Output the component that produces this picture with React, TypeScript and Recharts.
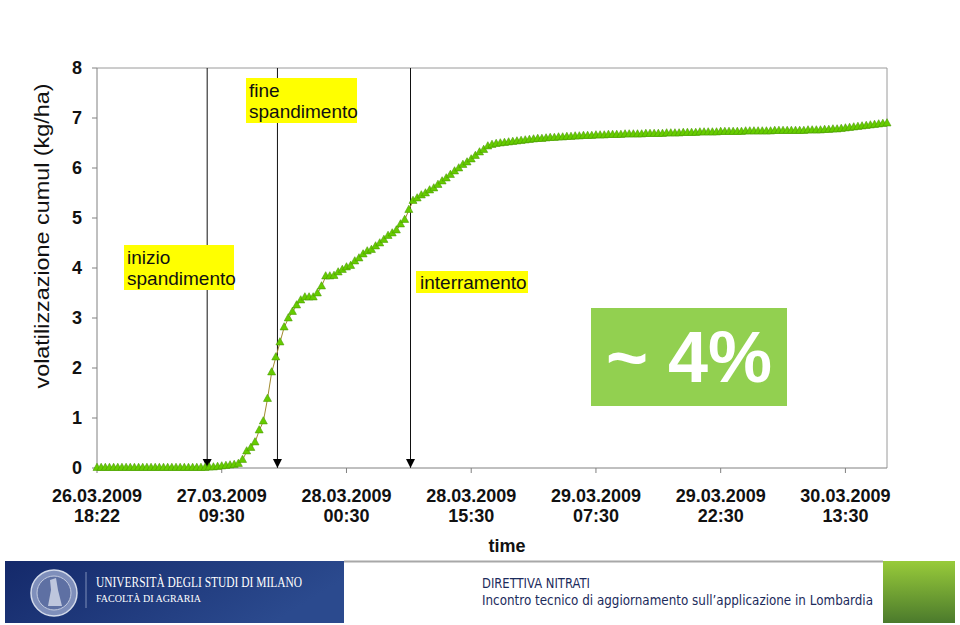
import React from 'react'
import { LineChart, Line, XAxis, YAxis, ReferenceLine, ReferenceDot } from 'recharts'

// half-hourly readings, 26.03.2009 18:22 -> 30.03.2009 ~18:00
const tickIndex = [0, 30, 60, 90, 120, 150, 180]
const tickDates = ['26.03.2009', '27.03.2009', '28.03.2009', '28.03.2009', '29.03.2009', '29.03.2009', '30.03.2009']
const tickTimes = ['18:22', '09:30', '00:30', '15:30', '07:30', '22:30', '13:30']
const yTicks = [0, 1, 2, 3, 4, 5, 6, 7, 8]

// cumulative volatilisation (kg/ha)
const beforeSpreading = [
  0, 0, 0, 0, 0, 0, 0, 0, 0, 0, 0, 0, 0, 0, 0, 0, 0, 0, 0, 0, 0, 0, 0, 0, 0, 0, 0,
  0.01, 0.01, 0.02, 0.03, 0.04, 0.05, 0.06, 0.08,
]
const duringSpreading = [
  0.16, 0.33, 0.4, 0.51, 0.75, 0.93, 1.38, 1.91, 2.21, 2.51, 2.81, 2.99, 3.12, 3.25, 3.35, 3.41,
  3.41, 3.41, 3.49, 3.63,
]
const afterSpreading = [
  3.83, 3.83, 3.84, 3.91, 3.96, 4.01, 4.04, 4.13, 4.19, 4.27, 4.33, 4.36, 4.43, 4.49, 4.56, 4.64,
  4.69, 4.75, 4.87, 4.96, 5.16, 5.34, 5.39, 5.45, 5.49, 5.55, 5.59, 5.66, 5.73, 5.79, 5.86, 5.93,
  5.99, 6.06, 6.11, 6.17, 6.24, 6.31, 6.36, 6.43, 6.46, 6.48,
]
const plateau = [
  6.49, 6.5, 6.51, 6.52, 6.53, 6.54, 6.55, 6.56, 6.57, 6.58, 6.58, 6.59, 6.6, 6.6, 6.61, 6.61,
  6.62, 6.62, 6.63, 6.63, 6.64, 6.64, 6.64, 6.65,
  6.65, 6.65, 6.66, 6.66, 6.66, 6.66, 6.67, 6.67,
  6.67, 6.67, 6.67, 6.68, 6.68, 6.68, 6.68, 6.68,
  6.69, 6.69, 6.69, 6.69, 6.7, 6.7, 6.7, 6.7,
  6.71, 6.71, 6.71, 6.71, 6.71, 6.72, 6.72, 6.72,
  6.72, 6.72, 6.72, 6.73, 6.73, 6.73, 6.73, 6.73,
  6.73, 6.73, 6.74, 6.74, 6.74, 6.74, 6.74, 6.74,
  6.74, 6.74, 6.75, 6.75, 6.75, 6.75, 6.76, 6.76,
  6.77, 6.77, 6.78, 6.79, 6.8, 6.81, 6.82, 6.83,
  6.84, 6.85, 6.86, 6.87, 6.88, 6.89,
]
const volatilization = [...beforeSpreading, ...duringSpreading, ...afterSpreading, ...plateau]
const data = volatilization.map((v, i) => ({ step: i, v }))

// field operations (position on the time index)
const eventSteps = [26.5, 43.4, 75.4]

const FONT = '"Liberation Sans", Arial, sans-serif'

const Triangle = (p: any) => {
  const { cx, cy, index } = p
  if (cx == null || cy == null) return <g key={`d${index}`} />
  return (
    <polygon
      key={`d${index}`}
      points={`${cx},${cy - 4.8} ${cx + 4},${cy + 2.4} ${cx - 4},${cy + 2.4}`}
      fill="#66CC00"
      stroke="#4A9A00"
      strokeWidth={0.6}
    />
  )
}

const Arrow = (p: any) => {
  const { cx, cy } = p
  return <polygon points={`${cx - 4.5},${cy - 9} ${cx + 4.5},${cy - 9} ${cx},${cy}`} fill="#000" />
}

const XTick = (p: any) => {
  const { x, payload } = p
  const k = tickIndex.indexOf(payload.value)
  return (
    <g>
      <text x={x} y={502} textAnchor="middle" fontFamily={FONT} fontWeight="bold" fontSize={18} fill="#111">
        {tickDates[k]}
      </text>
      <text x={x} y={522} textAnchor="middle" fontFamily={FONT} fontWeight="bold" fontSize={18} fill="#111">
        {tickTimes[k]}
      </text>
    </g>
  )
}

const box: React.CSSProperties = {
  position: 'absolute',
  background: '#FFFF00',
  fontFamily: FONT,
  fontSize: 19,
  lineHeight: '21px',
  color: '#111',
  whiteSpace: 'nowrap',
  boxSizing: 'border-box',
}

function Footer() {
  return (
    <svg width={960} height={65} style={{ position: 'absolute', left: 0, top: 560 }}>
      <defs>
        <linearGradient id="blue" x1="0" y1="0" x2="1" y2="0.3">
          <stop offset="0" stopColor="#14296A" />
          <stop offset="1" stopColor="#2B4A8E" />
        </linearGradient>
        <linearGradient id="green" x1="0" y1="0" x2="0" y2="1">
          <stop offset="0" stopColor="#98CB3A" />
          <stop offset="1" stopColor="#4B7A2C" />
        </linearGradient>
      </defs>
      <line x1={344} y1={1.5} x2={883} y2={1.5} stroke="#A8A8A8" strokeWidth={2} />
      <rect x={5} y={1} width={339} height={62} fill="url(#blue)" />
      <circle cx={54} cy={33} r={23} fill="#7F8FBB" stroke="#D3DAEA" strokeWidth={1.5} />
      <circle cx={54} cy={33} r={17} fill="#5E70A3" stroke="#C3CBE0" strokeWidth={1} />
      <path d="M50 20 L56 18 L58 30 L62 46 L48 46 L51 30 Z" fill="#D6DCEB" opacity={0.8} />
      <line x1={86} y1={12} x2={86} y2={48} stroke="#7F8FBA" strokeWidth={1} />
      <text x={96} y={27} fontFamily='"Liberation Serif", serif' fontSize={14} fill="#fff" textLength={206} lengthAdjust="spacingAndGlyphs">
        UNIVERSITÀ DEGLI STUDI DI MILANO
      </text>
      <text x={96} y={42} fontFamily='"Liberation Serif", serif' fontSize={11} fill="#fff" textLength={105} lengthAdjust="spacingAndGlyphs">
        FACOLTÀ DI AGRARIA
      </text>
      <text x={482} y={28} fontFamily='"DejaVu Sans", sans-serif' fontSize={14} fill="#1C2B5C" textLength={108} lengthAdjust="spacingAndGlyphs">
        DIRETTIVA NITRATI
      </text>
      <text x={482} y={45} fontFamily='"DejaVu Sans", sans-serif' fontSize={14} fill="#1C2B5C" textLength={391} lengthAdjust="spacingAndGlyphs">
        Incontro tecnico di aggiornamento sull’applicazione in Lombardia
      </text>
      <rect x={883} y={1} width={72} height={62} fill="url(#green)" />
    </svg>
  )
}

export default function App() {
  return (
    <div style={{ position: 'absolute', left: 0, top: 0, width: 960, height: 625, background: '#fff', overflow: 'hidden' }}>
      <LineChart width={960} height={560} data={data} margin={{ top: 68, right: 73, bottom: 0, left: 0 }}>
        <XAxis
          type="number"
          dataKey="step"
          domain={[0, 190]}
          ticks={tickIndex}
          interval={0}
          height={92}
          tickSize={5}
          stroke="#808080"
          tick={<XTick />}
          label={{
            content: () => (
              <text x={507} y={552} textAnchor="middle" fontFamily={FONT} fontWeight="bold" fontSize={18} fill="#111">
                time
              </text>
            ),
          }}
        />
        <YAxis
          type="number"
          domain={[0, 8]}
          ticks={yTicks}
          interval={0}
          width={97}
          tickSize={5}
          tickMargin={10}
          stroke="#808080"
          tick={{ fill: '#111', fontFamily: FONT, fontWeight: 'bold', fontSize: 18 }}
          label={{
            content: () => (
              <text
                x={42}
                y={236}
                transform="rotate(-90 42 236)"
                textAnchor="middle"
                dominantBaseline="central"
                fontFamily={FONT}
                fontSize={20}
                fill="#111"
                textLength={305}
                lengthAdjust="spacingAndGlyphs"
              >
                volatilizzazione cumul (kg/ha)
              </text>
            ),
          }}
        />
        <ReferenceLine y={8} stroke="#9A9A9A" ifOverflow="extendDomain" />
        <ReferenceLine x={190} stroke="#9A9A9A" />
        {eventSteps.map((s) => (
          <ReferenceLine key={`e${s}`} x={s} stroke="#111" strokeWidth={1} />
        ))}
        {eventSteps.map((s) => (
          <ReferenceDot key={`a${s}`} x={s} y={0} r={4} ifOverflow="visible" shape={<Arrow />} />
        ))}
        <Line
          type="linear"
          dataKey="v"
          stroke="#A08A2E"
          strokeWidth={1}
          dot={Triangle}
          activeDot={false}
          isAnimationActive={false}
        />
      </LineChart>

      <div style={{ ...box, left: 246, top: 78, width: 111, height: 45, padding: '2px 0 0 3px' }}>
        fine
        <br />
        spandimento
      </div>
      <div style={{ ...box, left: 124, top: 245, width: 110, height: 45, padding: '2px 0 0 3px' }}>
        inizio
        <br />
        spandimento
      </div>
      <div style={{ ...box, left: 416, top: 271, width: 112, height: 22, padding: '1px 0 0 4px' }}>interramento</div>
      <div
        style={{
          position: 'absolute',
          left: 591,
          top: 308,
          width: 196,
          height: 98,
          background: '#92D050',
          color: '#fff',
          fontFamily: FONT,
          fontWeight: 'bold',
          fontSize: 72,
          lineHeight: '98px',
          textAlign: 'center',
        }}
      >
        ~ 4%
      </div>
      <Footer />
    </div>
  )
}
